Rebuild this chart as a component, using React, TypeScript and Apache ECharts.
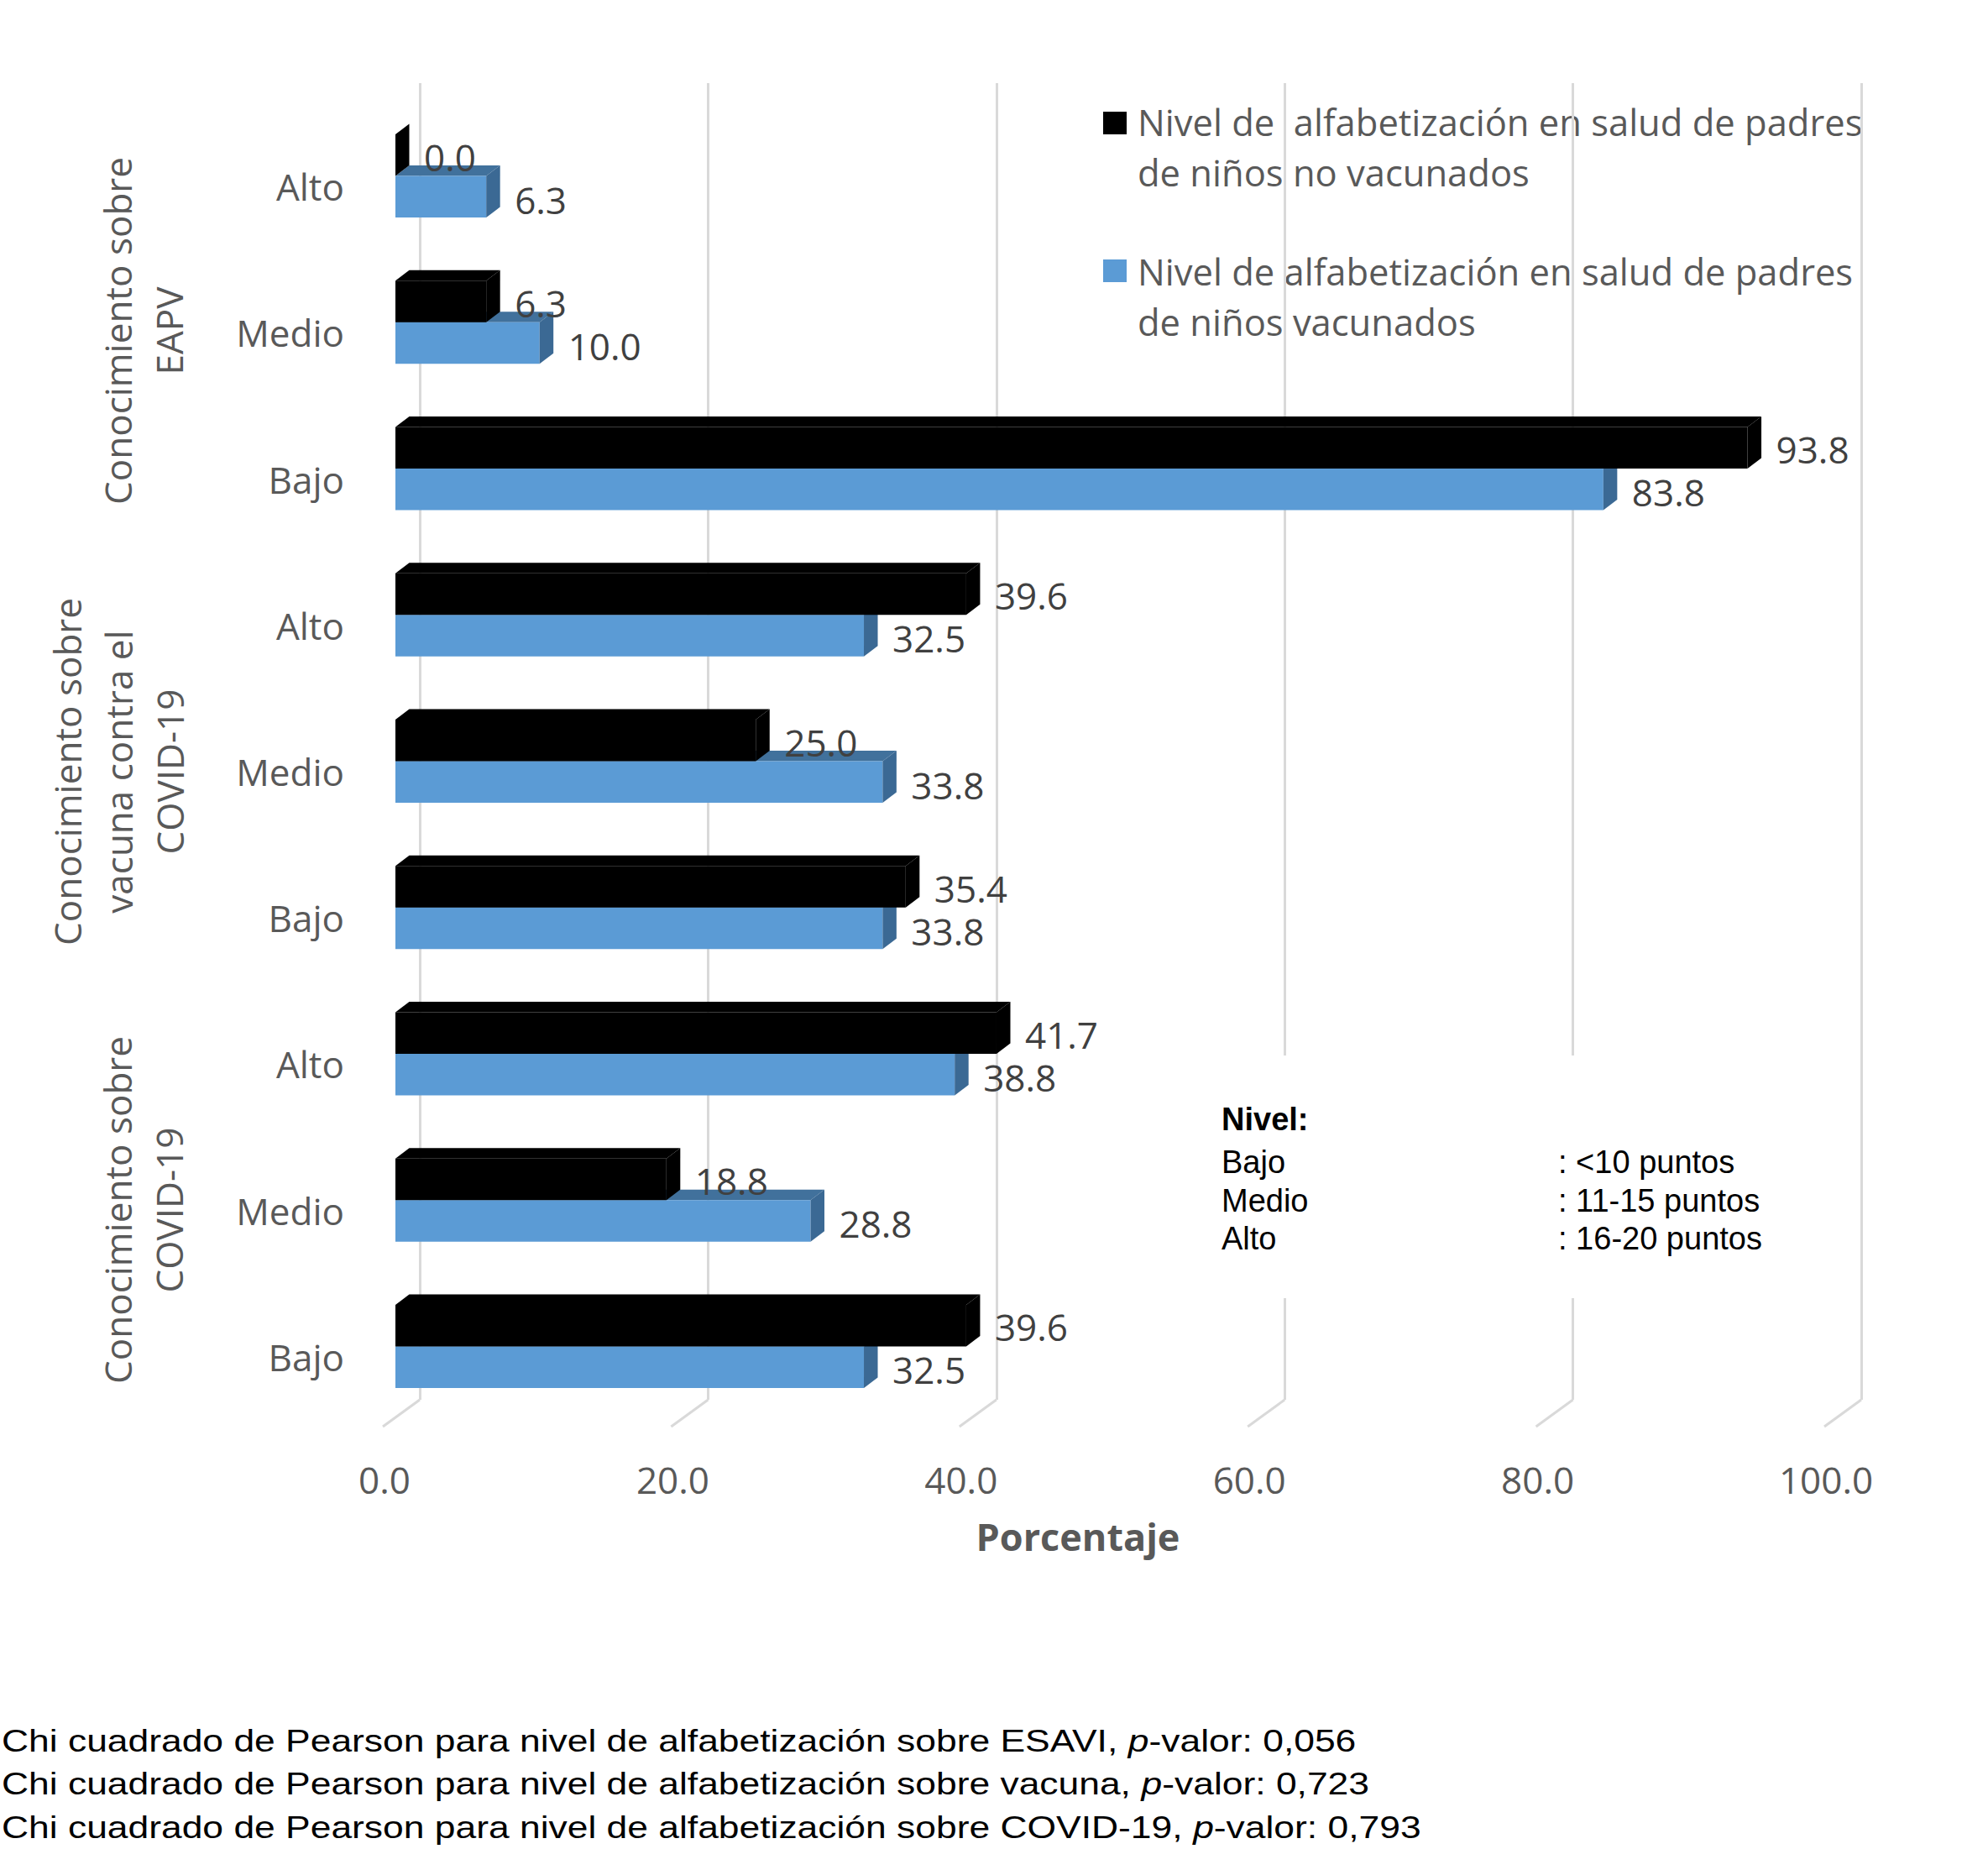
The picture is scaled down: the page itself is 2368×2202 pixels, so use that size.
import React, { useEffect, useRef } from "react";
import * as echarts from "echarts";

// ---------- data ----------
const levels = ["Alto", "Medio", "Bajo"];
const groups = [
  "Conocimiento sobre\nEAPV",
  "Conocimiento sobre\nvacuna contra el\nCOVID-19",
  "Conocimiento sobre\nCOVID-19",
];
const groupKeys = ["EAPV", "VACUNA", "COVID"];
const categories = groupKeys.flatMap((g) => levels.map((l) => g + "|" + l));
const noVacunados = [0.0, 6.3, 93.8, 39.6, 25.0, 35.4, 41.7, 18.8, 39.6];
const vacunados = [6.3, 10.0, 83.8, 32.5, 33.8, 33.8, 38.8, 28.8, 32.5];
const xTicks = [0, 20, 40, 60, 80, 100];
const seriesNames = [
  "Nivel de  alfabetización en salud de padres\nde niños no vacunados",
  "Nivel de alfabetización en salud de padres\nde niños vacunados",
];
const nivelRows = [
  ["Bajo", ": <10 puntos"],
  ["Medio", ": 11-15 puntos"],
  ["Alto", ": 16-20 puntos"],
];
const chiTopics = ["ESAVI", "vacuna", "COVID-19"];
const chiPValues = ["0,056", "0,723", "0,793"];

// ---------- style ----------
const FONT = "'Open Sans', 'Noto Sans', sans-serif";
const ARIAL = "'Liberation Sans', Arial, sans-serif";
const GRAY = "#595959";
const BACK = 29; // bars front plane offset from back wall
const DX = 16.5;
const DY = -12.5;

function barRenderer(kind: "black" | "blue") {
  return (params: any, api: any) => {
    const v = api.value(0);
    const c = api.value(1);
    const p0 = api.coord([0, c]);
    const p1 = api.coord([v, c]);
    const cy = p0[1];
    const x0 = p0[0] - BACK;
    const x1 = p1[0] - BACK;
    const top = kind === "black" ? cy - 26 : cy + 23.5;
    const bot = kind === "black" ? cy + 23.5 : cy + 73;
    const front = kind === "black" ? "#000000" : "#5b9bd5";
    const topC = kind === "black" ? "#000000" : "#41719c";
    const sideC = kind === "black" ? "#000000" : "#3b6994";
    const labelY = kind === "black" ? cy + 0.5 : cy + 51.5;
    return {
      type: "group",
      children: [
        {
          type: "polygon",
          shape: { points: [[x0, top], [x0 + DX, top + DY], [x1 + DX, top + DY], [x1, top]] },
          style: { fill: topC },
        },
        {
          type: "rect",
          shape: { x: x0, y: top, width: Math.max(0, x1 - x0), height: bot - top },
          style: { fill: front },
        },
        {
          type: "polygon",
          shape: { points: [[x1, top], [x1 + DX, top + DY], [x1 + DX, bot + DY], [x1, bot]] },
          style: { fill: sideC },
        },
        {
          type: "text",
          style: {
            text: v.toFixed(1),
            x: x1 + 34,
            y: labelY,
            align: "left",
            verticalAlign: "middle",
            fill: "#404040",
            fontSize: 44,
            lineHeight: 44,
            fontFamily: FONT,
          },
        },
      ],
    };
  };
}

function floorRenderer(params: any, api: any) {
  const v = api.value(0);
  const x = api.coord([v, 0])[0];
  const cs = params.coordSys;
  const yb = cs.y + cs.height;
  return {
    type: "line",
    shape: { x1: x, y1: yb, x2: x - 44, y2: yb + 32 },
    style: { stroke: "#d9d9d9", lineWidth: 3 },
  };
}

export default function App() {
  const ref = useRef<HTMLDivElement>(null);

  useEffect(() => {
    document.body.style.margin = "0";
    document.body.style.overflow = "hidden";
    if (!ref.current) return;
    const chart = echarts.init(ref.current, undefined, { renderer: "svg" });

    const footRich = {
      n: { fontSize: 37, fontFamily: ARIAL, fill: "#000", color: "#000" },
      i: { fontSize: 37, fontFamily: ARIAL, fontStyle: "italic", fill: "#000", color: "#000" },
    };

    const graphic: any[] = [
      // group labels (rotated)
      ...groups.map((g, i) => ({
        type: "text",
        x: i === 1 ? 141 : 170.5,
        y: [394, 919, 1441][i],
        rotation: Math.PI / 2,
        style: {
          text: g,
          fill: GRAY,
          fontSize: 44,
          fontFamily: FONT,
          align: "center",
          verticalAlign: "middle",
          lineHeight: 61,
        },
      })),
      // legend
      { type: "rect", shape: { x: 1314, y: 133, width: 28, height: 27 }, style: { fill: "#000000" } },
      {
        type: "text",
        x: 1355,
        y: 115,
        style: { text: seriesNames[0], fill: GRAY, fontSize: 43.5, fontFamily: FONT, lineHeight: 60, verticalAlign: "top" },
      },
      { type: "rect", shape: { x: 1314, y: 309, width: 28, height: 27 }, style: { fill: "#5b9bd5" } },
      {
        type: "text",
        x: 1355,
        y: 293,
        style: { text: seriesNames[1], fill: GRAY, fontSize: 43.5, fontFamily: FONT, lineHeight: 60, verticalAlign: "top" },
      },
      // Nivel box
      { type: "rect", z: 100, shape: { x: 1440, y: 1257, width: 720, height: 289 }, style: { fill: "#ffffff" } },
      {
        type: "text",
        z: 101,
        x: 1455,
        y: 1333,
        style: { text: "Nivel:", fill: "#000", fontSize: 38, fontWeight: "bold", fontFamily: ARIAL, verticalAlign: "middle" },
      },
      ...nivelRows.flatMap((r, i) => [
        {
          type: "text",
          z: 101,
          x: 1455,
          y: 1384 + i * 45.5,
          style: { text: r[0], fill: "#000", fontSize: 38, fontFamily: ARIAL, verticalAlign: "middle" },
        },
        {
          type: "text",
          z: 101,
          x: 1856,
          y: 1384 + i * 45.5,
          style: { text: r[1], fill: "#000", fontSize: 38, fontFamily: ARIAL, verticalAlign: "middle" },
        },
      ]),
      // axis title
      {
        type: "text",
        x: 1284,
        y: 1829,
        style: { text: "Porcentaje", fill: GRAY, fontSize: 45, fontWeight: "bold", fontFamily: FONT, align: "center", verticalAlign: "middle" },
      },
      // footnotes
      ...chiTopics.map((t, i) => ({
        type: "text",
        x: 2,
        y: 2073 + i * 51.5,
        scaleX: 1.2,
        style: {
          text: `{n|Chi cuadrado de Pearson para nivel de alfabetización sobre ${t}, }{i|p}{n|-valor: ${chiPValues[i]}}`,
          rich: footRich,
          verticalAlign: "middle",
          fill: "#000",
          fontSize: 37,
          fontFamily: ARIAL,
        },
      })),
    ];

    const option: any = {
      animation: false,
      backgroundColor: "#ffffff",
      grid: [
        { left: 500, top: 99, width: 1717, height: 1568 },
        { left: 458, top: 135, width: 1717, height: 1568 },
      ],
      xAxis: [
        {
          type: "value",
          gridIndex: 0,
          min: 0,
          max: 100,
          interval: 20,
          axisLine: { show: false },
          axisTick: { show: false },
          axisLabel: { show: false },
          splitLine: { show: true, lineStyle: { color: "#d9d9d9", width: 3 } },
        },
        {
          type: "value",
          gridIndex: 1,
          min: 0,
          max: 100,
          interval: 20,
          axisLine: { show: false },
          axisTick: { show: false },
          splitLine: { show: false },
          axisLabel: {
            show: true,
            margin: 59,
            verticalAlign: "middle",
            showMinLabel: true,
            showMaxLabel: true,
            formatter: (v: number) => v.toFixed(1),
            fontSize: 44,
            fontFamily: FONT,
            color: GRAY,
          },
        },
      ],
      yAxis: [
        {
          type: "category",
          gridIndex: 0,
          data: categories,
          inverse: true,
          axisLine: { show: false },
          axisTick: { show: false },
          axisLabel: { show: false },
          splitLine: { show: false },
        },
        {
          type: "category",
          gridIndex: 1,
          data: categories,
          inverse: true,
          axisLine: { show: false },
          axisTick: { show: false },
          splitLine: { show: false },
          axisLabel: {
            show: true,
            interval: 0,
            margin: 48,
            formatter: (v: string) => v.split("|")[1],
            fontSize: 44,
            fontFamily: FONT,
            color: GRAY,
          },
        },
      ],
      series: [
        {
          type: "custom",
          name: "floor",
          xAxisIndex: 0,
          yAxisIndex: 0,
          renderItem: floorRenderer,
          data: xTicks.map((t) => [t]),
          encode: { x: 0 },
          silent: true,
          z: 1,
        },
        {
          type: "custom",
          name: seriesNames[1],
          xAxisIndex: 0,
          yAxisIndex: 0,
          renderItem: barRenderer("blue"),
          data: vacunados.map((v, i) => [v, i]),
          encode: { x: 0, y: 1 },
          z: 3,
        },
        {
          type: "custom",
          name: seriesNames[0],
          xAxisIndex: 0,
          yAxisIndex: 0,
          renderItem: barRenderer("black"),
          data: noVacunados.map((v, i) => [v, i]),
          encode: { x: 0, y: 1 },
          z: 4,
        },
      ],
      graphic,
    };

    chart.setOption(option);
    return () => chart.dispose();
  }, []);

  return <div ref={ref} style={{ width: "2368px", height: "2202px" }} />;
}
